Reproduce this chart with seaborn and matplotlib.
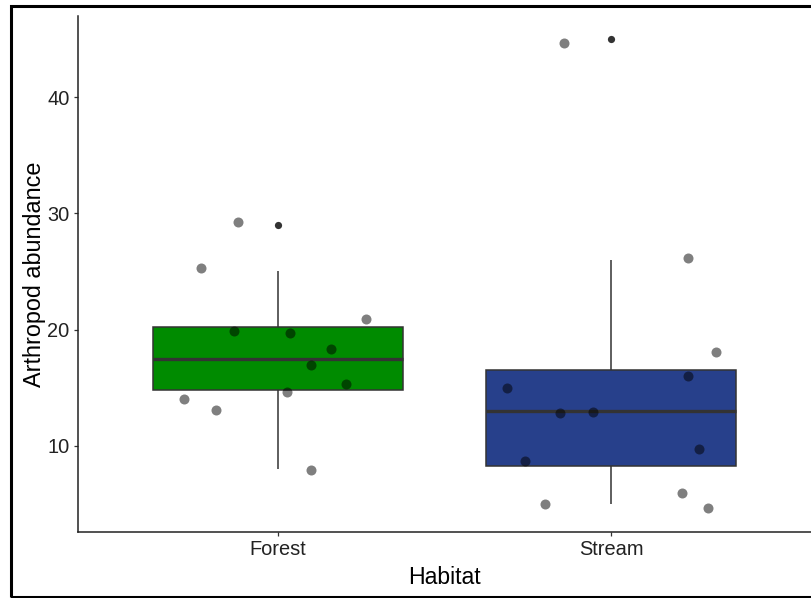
import matplotlib
matplotlib.use("Agg")
import matplotlib.pyplot as plt
import matplotlib.patches as mpatches
import numpy as np
import pandas as pd
import seaborn as sns

# ---- data ----
habitats = ["Forest", "Stream"]
forest_abundance = [29, 25, 21, 20, 20, 18, 17, 15, 15, 14, 13, 8]
stream_abundance = [45, 26, 18, 16, 15, 13, 13, 10, 9, 6, 5, 5]
box_colors = ["#008B00", "#27408B"]
y_ticks = [10, 20, 30, 40]

# jitter offsets (category units / value units)
forest_jitter_x = [-0.120, -0.231, 0.265, -0.132, 0.036, 0.160, 0.098, 0.204, 0.028, -0.283, -0.186, 0.099]
forest_jitter_y = [0.3, 0.3, -0.1, -0.1, -0.3, 0.3, -0.05, 0.3, -0.4, 0.05, 0.1, -0.1]
stream_jitter_x = [-0.142, 0.230, 0.315, 0.232, -0.312, -0.053, -0.153, 0.265, -0.258, 0.213, -0.198, 0.291]
stream_jitter_y = [-0.34, 0.2, 0.1, 0.0, 0.0, -0.1, -0.2, -0.31, -0.34, -0.1, -0.05, -0.37]

df = pd.DataFrame({
    "Habitat": [habitats[0]] * len(forest_abundance) + [habitats[1]] * len(stream_abundance),
    "Abundance": forest_abundance + stream_abundance,
})
codes = np.array([0] * len(forest_abundance) + [1] * len(stream_abundance), dtype=float)
jx = np.array(forest_jitter_x + stream_jitter_x)
jy = np.array(forest_jitter_y + stream_jitter_y)

sns.set_style("white")
plt.rcParams["font.family"] = ["Liberation Sans", "DejaVu Sans"]

W, H = 811, 598
fig = plt.figure(figsize=(W / 100, H / 100), dpi=100)
ax = fig.add_axes([78 / W, (H - 531.7) / H, (W - 78) / W, (531.7 - 16) / H])

sns.boxplot(
    data=df, x="Habitat", y="Abundance", hue="Habitat", order=habitats, hue_order=habitats,
    palette=box_colors, width=0.75, linecolor="#333333", linewidth=1.1, saturation=1,
    whis=1.5, showcaps=False, legend=False,
    medianprops=dict(linewidth=2.4, color="#333333"),
    whiskerprops=dict(linewidth=1.1, color="#333333"),
    flierprops=dict(marker="o", markersize=5.2, markerfacecolor="#333333",
                    markeredgecolor="#333333", markeredgewidth=0),
    ax=ax,
)

sns.scatterplot(
    x=codes + jx, y=df["Abundance"].to_numpy() + jy, color="black", alpha=0.5,
    s=52, linewidth=0, ax=ax, zorder=5, legend=False,
)

ax.set_xlim(-0.6, 1.6)
ax.set_ylim(2.59, 47.0)
ax.set_xticks([0, 1])
ax.set_xticklabels(habitats)
ax.set_yticks(y_ticks)
ax.set_yticklabels([str(t) for t in y_ticks])

for s in ["top", "right"]:
    ax.spines[s].set_visible(False)
for s in ["left", "bottom"]:
    ax.spines[s].set_visible(True)
    ax.spines[s].set_color("#222222")
    ax.spines[s].set_linewidth(1.1)

ax.tick_params(axis="both", which="major", length=3.2, width=0.9, color="#333333",
               labelsize=14.4, labelcolor="#222222", pad=3, left=True, bottom=True)
ax.set_xlabel("Habitat", fontsize=16.6, color="black", labelpad=5)
ax.set_ylabel("Arthropod abundance", fontsize=16.8, color="black", labelpad=1)

# outer frame of the picture
frame = mpatches.Rectangle((10.5 / W, 1 - 596.5 / H), (W + 20) / W, (596.5 - 5.5) / H,
                           transform=fig.transFigure, fill=False, edgecolor="black",
                           linewidth=2.2, clip_on=False)
fig.patches.append(frame)

fig.savefig("out.png", dpi=100)
